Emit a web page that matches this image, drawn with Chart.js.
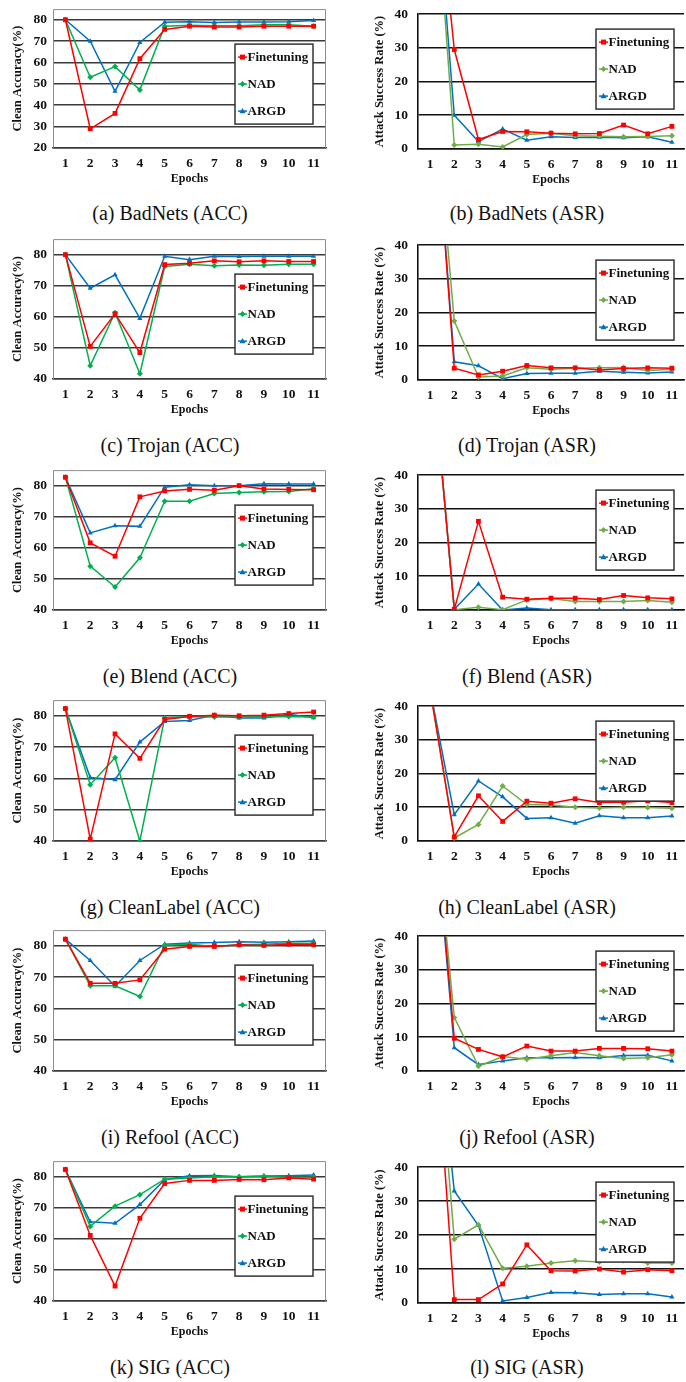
<!DOCTYPE html>
<html>
<head>
<meta charset="utf-8">
<script src="https://cdn.jsdelivr.net/npm/chart.js@4.4.1/dist/chart.umd.min.js"></script>
<style>
  html, body { margin: 0; padding: 0; background: #fff; overflow: hidden; }
  #page { position: relative; width: 686px; height: 1382px; overflow: hidden; background: #fff; }
  #page canvas { position: absolute; }
  .cap {
    position: absolute; white-space: nowrap; color: #111;
    font-family: "Liberation Serif", "Times New Roman", serif; font-size: 20px;
    transform: translate(-50%, -50%);
  }
</style>
</head>
<body>
<div id="page"></div>
<script>
const epochs = ['1', '2', '3', '4', '5', '6', '7', '8', '9', '10', '11'];
const methods = ['Finetuning', 'NAD', 'ARGD'];

// BadNets
const accBadNetsFT   = [80, 29, 36.2, 61.8, 75.5, 77, 76.6, 76.6, 77, 77, 77];
const accBadNetsNAD  = [80, 53.1, 58.1, 47.2, 77, 77.5, 77.2, 77.2, 77.7, 77.7, 77];
const accBadNetsARGD = [80, 70, 46.5, 69.4, 78.9, 79.1, 78.7, 79, 79, 79.1, 79.7];
const asrBadNetsFT   = [100, 29.5, 2.8, 5.2, 5.1, 4.7, 4.5, 4.6, 7.1, 4.5, 6.7];
const asrBadNetsNAD  = [100, 1.2, 1.4, 0.6, 4.3, 4.7, 3.9, 3.8, 3.6, 3.7, 3.9];
const asrBadNetsARGD = [100, 10, 2.2, 5.9, 2.6, 3.6, 3.4, 3.5, 3.3, 3.6, 2];

// Trojan
const accTrojanFT   = [80, 50.5, 61, 48.5, 76.8, 77.2, 78, 77.7, 78, 77.8, 77.8];
const accTrojanNAD  = [80, 44.3, 61.3, 41.7, 76.2, 76.9, 76.4, 76.7, 76.6, 76.9, 76.9];
const accTrojanARGD = [80, 69.2, 73.5, 59.5, 79.5, 78.4, 79.5, 79.4, 79.5, 79.5, 79.5];
const asrTrojanFT   = [100, 3.5, 1.5, 2.6, 4.3, 3.6, 3.6, 3.0, 3.4, 3.6, 3.5];
const asrTrojanNAD  = [100, 17.5, 0.9, 1.2, 3.6, 3.2, 3.5, 3.6, 3.7, 2.8, 3.2];
const asrTrojanARGD = [100, 5.4, 4.2, 0.4, 1.9, 2.0, 2.0, 2.6, 2.3, 2.1, 2.4];

// Blend
const accBlendFT   = [82.7, 61.6, 57.3, 76.4, 78.3, 78.8, 78.5, 80, 78.9, 78.8, 78.7];
const accBlendNAD  = [82.7, 54.1, 47.4, 56.8, 75, 75, 77.5, 77.8, 78, 78.1, 79];
const accBlendARGD = [82.7, 64.8, 67.1, 66.9, 79.5, 80.3, 80, 80, 80.6, 80.5, 80.5];
const asrBlendFT   = [80, 0.2, 26.3, 3.8, 3.2, 3.5, 3.5, 3.1, 4.3, 3.6, 3.3];
const asrBlendNAD  = [80, 0.1, 0.8, 0.1, 3.0, 3.4, 2.5, 2.5, 2.5, 2.8, 2.3];
const asrBlendARGD = [80, 0.2, 7.7, 0, 0.6, 0.1, 0.1, 0.1, 0.1, 0.1, 0.1];

// CleanLabel
const accCleanFT   = [82.3, 40.6, 74.2, 66.4, 78.8, 79.8, 80.2, 80, 80.2, 80.7, 81.2];
const accCleanNAD  = [82.3, 58, 66.6, 40, 79.3, 79.8, 79.6, 79.6, 79.7, 79.8, 79.6];
const accCleanARGD = [82.3, 60.3, 59.6, 71.6, 78.2, 78.5, 80.2, 79.3, 79.3, 80.5, 79.4];
const asrCleanFT   = [45, 1.2, 13.4, 5.8, 11.8, 11.2, 12.5, 11.4, 11.5, 11.9, 11.4];
const asrCleanNAD  = [45, 0.9, 4.9, 16.3, 10.8, 10.7, 10, 9.8, 10, 9.9, 9.7];
const asrCleanARGD = [45, 7.8, 17.8, 13.1, 6.7, 6.9, 5.3, 7.5, 6.9, 6.9, 7.4];

// Refool
const accRefoolFT   = [82.1, 68, 68, 69.1, 78.9, 79.8, 79.8, 80.3, 80.1, 80.5, 80.3];
const accRefoolNAD  = [82.1, 67.2, 67.2, 63.8, 80.2, 80.5, 79.8, 80.3, 80.5, 80.8, 80.8];
const accRefoolARGD = [82.1, 75.3, 67.1, 75.3, 80.5, 80.9, 81, 81.3, 81.1, 81.3, 81.5];
const asrRefoolFT   = [90, 9.7, 6.4, 4.2, 7.4, 5.9, 5.9, 6.7, 6.7, 6.6, 5.9];
const asrRefoolNAD  = [90, 15.9, 1.4, 4.3, 3.5, 4.5, 5.5, 4.5, 3.7, 3.9, 4.8];
const asrRefoolARGD = [90, 6.9, 1.9, 3.0, 3.9, 3.9, 4.0, 3.9, 4.6, 4.7, 3.0];

// SIG
const accSigFT   = [82.3, 61.1, 44.8, 66.6, 77.8, 78.8, 78.8, 79.1, 79, 79.6, 79.2];
const accSigNAD  = [82.3, 64, 70.5, 74.2, 79.2, 79.6, 80, 80, 80.1, 79.8, 79.8];
const accSigARGD = [82.3, 65.5, 65, 71, 79, 80.3, 80.4, 80, 80.2, 80.3, 80.5];
const asrSigFT   = [100, 1, 1, 5.6, 17.1, 9.5, 9.4, 10, 9.1, 9.8, 9.5];
const asrSigNAD  = [105, 18.8, 23, 10.2, 10.8, 11.8, 12.4, 12.1, 12.5, 11.8, 11.8];
const asrSigARGD = [100, 33, 22.8, 0.6, 1.6, 3.1, 3.0, 2.5, 2.7, 2.7, 1.8];

// panel layout: plot top / bottom in page pixels
const panels = [
  { kind: 'acc', cap: '(a) BadNets (ACC)', top: 5, bottom: 148, min: 20, s: [accBadNetsFT, accBadNetsNAD, accBadNetsARGD] },
  { kind: 'asr', cap: '(b) BadNets (ASR)', top: 6, bottom: 149, s: [asrBadNetsFT, asrBadNetsNAD, asrBadNetsARGD] },
  { kind: 'acc', cap: '(c) Trojan (ACC)', top: 235, bottom: 379, min: 40, s: [accTrojanFT, accTrojanNAD, accTrojanARGD] },
  { kind: 'asr', cap: '(d) Trojan (ASR)', top: 237, bottom: 380, s: [asrTrojanFT, asrTrojanNAD, asrTrojanARGD] },
  { kind: 'acc', cap: '(e) Blend (ACC)', top: 466, bottom: 610, min: 40, s: [accBlendFT, accBlendNAD, accBlendARGD] },
  { kind: 'asr', cap: '(f) Blend (ASR)', top: 467, bottom: 610, s: [asrBlendFT, asrBlendNAD, asrBlendARGD] },
  { kind: 'acc', cap: '(g) CleanLabel (ACC)', top: 696, bottom: 841, min: 40, s: [accCleanFT, accCleanNAD, accCleanARGD] },
  { kind: 'asr', cap: '(h) CleanLabel (ASR)', top: 698, bottom: 841, s: [asrCleanFT, asrCleanNAD, asrCleanARGD] },
  { kind: 'acc', cap: '(i) Refool (ACC)', top: 926, bottom: 1071, min: 40, s: [accRefoolFT, accRefoolNAD, accRefoolARGD] },
  { kind: 'asr', cap: '(j) Refool (ASR)', top: 928, bottom: 1071, s: [asrRefoolFT, asrRefoolNAD, asrRefoolARGD] },
  { kind: 'acc', cap: '(k) SIG (ACC)', top: 1157, bottom: 1301, min: 40, s: [accSigFT, accSigNAD, accSigARGD] },
  { kind: 'asr', cap: '(l) SIG (ASR)', top: 1159, bottom: 1303, s: [asrSigFT, asrSigNAD, asrSigARGD] },
];
const capRows = [213, 445, 676, 907, 1137, 1367];

const SERIF = '"Liberation Serif", "Times New Roman", serif';
const RED = '#ff0000', BLUE = '#0070c0', GREEN_ACC = '#00b050', GREEN_ASR = '#70ad47';
const styles = ['rect', 'rectRot', 'triangle'];

function marker(ctx, style, x, y, color) {
  ctx.fillStyle = color;
  ctx.beginPath();
  if (style === 'rect') ctx.rect(x - 2.5, y - 2.5, 5, 5);
  else if (style === 'rectRot') { ctx.moveTo(x, y - 3); ctx.lineTo(x + 3, y); ctx.lineTo(x, y + 3); ctx.lineTo(x - 3, y); }
  else { ctx.moveTo(x, y - 3.2); ctx.lineTo(x + 3, y + 2.2); ctx.lineTo(x - 3, y + 2.2); }
  ctx.closePath();
  ctx.fill();
}

const framePlugin = {
  id: 'frame',
  beforeDatasetsDraw(chart, args, opts) {
    if (!opts.show) return;
    const { ctx, chartArea: a } = chart;
    ctx.save();
    ctx.strokeStyle = '#8c8c8c';
    ctx.lineWidth = 1;
    ctx.beginPath();
    ctx.moveTo(a.left + 0.5, a.bottom);
    ctx.lineTo(a.left + 0.5, a.top + 0.5);
    ctx.lineTo(a.right - 0.5, a.top + 0.5);
    ctx.lineTo(a.right - 0.5, a.bottom);
    ctx.stroke();
    ctx.restore();
  }
};

const boxLegend = {
  id: 'boxLegend',
  afterDatasetsDraw(chart, args, opts) {
    const { ctx, chartArea: a } = chart;
    const w = 78, h = 80;
    const x = a.right - opts.right - w;
    const y = a.top + opts.top;
    ctx.save();
    ctx.fillStyle = '#fff';
    ctx.fillRect(x, y, w, h);
    ctx.strokeStyle = '#333';
    ctx.lineWidth = 1.5;
    ctx.strokeRect(x, y, w, h);
    chart.data.datasets.forEach((ds, i) => {
      const yy = y + 13 + i * 27;
      ctx.strokeStyle = ds.borderColor;
      ctx.lineWidth = 1.5;
      ctx.beginPath();
      ctx.moveTo(x + 3, yy);
      ctx.lineTo(x + 12, yy);
      ctx.stroke();
      marker(ctx, styles[i], x + 7.5, yy, ds.borderColor);
      ctx.fillStyle = '#111';
      ctx.font = 'bold 13px ' + SERIF;
      ctx.textBaseline = 'middle';
      ctx.fillText(ds.label, x + 12.5, yy + 0.5);
    });
    ctx.restore();
  }
};

const page = document.getElementById('page');

panels.forEach((p, idx) => {
  const acc = p.kind === 'acc';
  const cLeft = acc ? 0 : 343;
  const cWidth = acc ? 343 : 345;
  const plotLeft = acc ? 53 : 418;
  const plotRight = acc ? 326 : 688;
  const padTop = 10;
  const cTop = p.top - padTop;
  const cHeight = p.bottom + 38 - cTop;
  const titleCx = acc ? 18 : 380;
  const padLeft = titleCx - cLeft - 7.5;
  const yWidth = plotLeft - cLeft - padLeft;
  const colors = [RED, acc ? GREEN_ACC : GREEN_ASR, BLUE];

  const canvas = document.createElement('canvas');
  canvas.width = cWidth;
  canvas.height = cHeight;
  canvas.style.left = cLeft + 'px';
  canvas.style.top = cTop + 'px';
  canvas.style.width = cWidth + 'px';
  canvas.style.height = cHeight + 'px';
  page.appendChild(canvas);

  const tickFont = { family: SERIF, size: 13.5, weight: 'bold' };

  new Chart(canvas, {
    type: 'line',
    data: {
      labels: epochs,
      datasets: methods.map((m, i) => ({
        label: m,
        data: p.s[i],
        borderColor: colors[i],
        backgroundColor: colors[i],
        borderWidth: 1.5,
        pointStyle: styles[i],
        pointRadius: i === 0 ? 3.4 : 3,
        pointBorderWidth: 0,
        tension: 0,
        clip: 0
      }))
    },
    options: {
      responsive: false,
      animation: false,
      devicePixelRatio: 1,
      layout: { padding: { left: padLeft, top: padTop, right: cLeft + cWidth - plotRight, bottom: 0 } },
      plugins: {
        legend: { display: false },
        tooltip: { enabled: false },
        frame: { show: acc },
        boxLegend: { right: acc ? 13 : 10, top: acc ? 35 : 15 }
      },
      scales: {
        x: {
          type: 'category',
          offset: true,
          grid: { display: false, drawTicks: false },
          border: { display: true, color: acc ? '#3a3a3a' : '#111', width: 1.6 },
          ticks: { font: tickFont, color: '#111', padding: 7, maxRotation: 0, autoSkip: false },
          title: { display: true, text: 'Epochs', font: { family: SERIF, size: 12, weight: 'bold' }, color: '#111', padding: 0 },
          afterFit(s) { s.height = 38; }
        },
        y: {
          min: acc ? p.min : 0,
          max: acc ? 85 : 40,
          ticks: { stepSize: 10, includeBounds: false, font: tickFont, color: '#111', padding: acc ? 6 : 10 },
          grid: { color: acc ? '#3a3a3a' : '#111', lineWidth: 1.6, drawTicks: false },
          border: { display: !acc, color: '#111', width: 1.6 },
          title: {
            display: true,
            text: acc ? 'Clean Accuracy(%)' : 'Attack Success Rate (%)',
            font: { family: SERIF, size: 12.5, weight: 'bold' },
            color: '#111',
            padding: 0
          },
          afterFit(s) { s.width = yWidth; }
        }
      }
    },
    plugins: [framePlugin, boxLegend]
  });

  const cap = document.createElement('div');
  cap.className = 'cap';
  cap.textContent = p.cap;
  cap.style.left = (acc ? 170 : 527) + 'px';
  cap.style.top = capRows[Math.floor(idx / 2)] + 'px';
  page.appendChild(cap);
});
</script>
</body>
</html>
